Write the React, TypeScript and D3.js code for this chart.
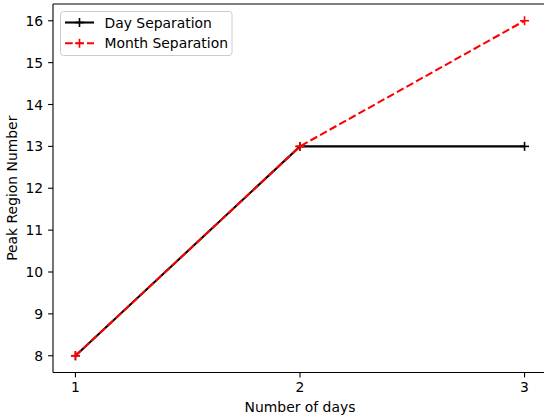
import React from "react";
import * as d3 from "d3";

const days = [1, 2, 3];
const daySeparation = [8, 13, 13];
const monthSeparation = [8, 13, 16];
const xTicks = [1, 2, 3];
const yTicks = [8, 9, 10, 11, 12, 13, 14, 15, 16];

const W = 544;
const H = 419;
const M = { left: 53, right: 547, top: 4, bottom: 372.5 };
const FONT = "DejaVu Sans, sans-serif";
const FS = 13.9;

export default function App() {
  const x = d3.scaleLinear().domain([0.9, 3.1]).range([M.left, M.right]);
  const y = d3.scaleLinear().domain([7.6, 16.4]).range([M.bottom, M.top]);
  const line = d3
    .line<number>()
    .x((_, i) => x(days[i]))
    .y((d) => y(d));

  const plus = (cx: number, cy: number, color: string, k: string) => (
    <g key={k} stroke={color} strokeWidth={1.6}>
      <line x1={cx - 4.5} x2={cx + 4.5} y1={cy} y2={cy} />
      <line x1={cx} x2={cx} y1={cy - 4.5} y2={cy + 4.5} />
    </g>
  );

  const series = [
    { name: "Day Separation", values: daySeparation, color: "#000000", dash: undefined },
    { name: "Month Separation", values: monthSeparation, color: "#ff0000", dash: "7.7,3.3" },
  ];

  return (
    <svg width={W} height={H} style={{ position: "absolute", left: 0, top: 0, background: "#fff" }}>
      <rect width={W} height={H} fill="#fff" />
      {series.map((s) => (
        <g key={s.name}>
          <path d={line(s.values) ?? ""} fill="none" stroke={s.color} strokeWidth={2.08} strokeDasharray={s.dash} />
          {s.values.map((v, i) => plus(x(days[i]), y(v), s.color, s.name + i))}
        </g>
      ))}
      {/* spines */}
      <g stroke="#000" strokeWidth={1.1} fill="none">
        <line x1={M.left} x2={M.left} y1={M.top} y2={M.bottom} />
        <line x1={M.left} x2={M.right} y1={M.bottom} y2={M.bottom} />
        <line x1={M.left} x2={M.right} y1={M.top} y2={M.top} />
        <line x1={M.right} x2={M.right} y1={M.top} y2={M.bottom} />
      </g>
      {/* x ticks */}
      {xTicks.map((t) => (
        <g key={"x" + t}>
          <line x1={x(t)} x2={x(t)} y1={M.bottom} y2={M.bottom + 4.9} stroke="#000" strokeWidth={1.1} />
          <text x={x(t)} y={392} textAnchor="middle" fontFamily={FONT} fontSize={FS}>
            {t}
          </text>
        </g>
      ))}
      {/* y ticks */}
      {yTicks.map((t) => (
        <g key={"y" + t}>
          <line x1={M.left - 4.9} x2={M.left} y1={y(t)} y2={y(t)} stroke="#000" strokeWidth={1.1} />
          <text x={M.left - 9.8} y={y(t)} dy="0.36em" textAnchor="end" fontFamily={FONT} fontSize={FS}>
            {t}
          </text>
        </g>
      ))}
      <text x={300} y={411.5} textAnchor="middle" fontFamily={FONT} fontSize={FS}>
        Number of days
      </text>
      <text
        transform={`translate(17,${(M.top + M.bottom) / 2}) rotate(-90)`}
        textAnchor="middle"
        fontFamily={FONT}
        fontSize={FS}
      >
        Peak Region Number
      </text>
      {/* legend */}
      <rect x={60.5} y={11.5} width={171.5} height={44} rx={3} fill="#fff" fillOpacity={0.8} stroke="#cccccc" strokeWidth={1} />
      {series.map((s, i) => {
        const ly = 22.5 + i * 20.8;
        return (
          <g key={"leg" + s.name}>
            <line x1={65} x2={94} y1={ly} y2={ly} stroke={s.color} strokeWidth={2.08} strokeDasharray={s.dash} />
            {plus(79.5, ly, s.color, "lm" + i)}
            <text x={104.5} y={ly} dy="0.36em" fontFamily={FONT} fontSize={FS}>
              {s.name}
            </text>
          </g>
        );
      })}
    </svg>
  );
}
